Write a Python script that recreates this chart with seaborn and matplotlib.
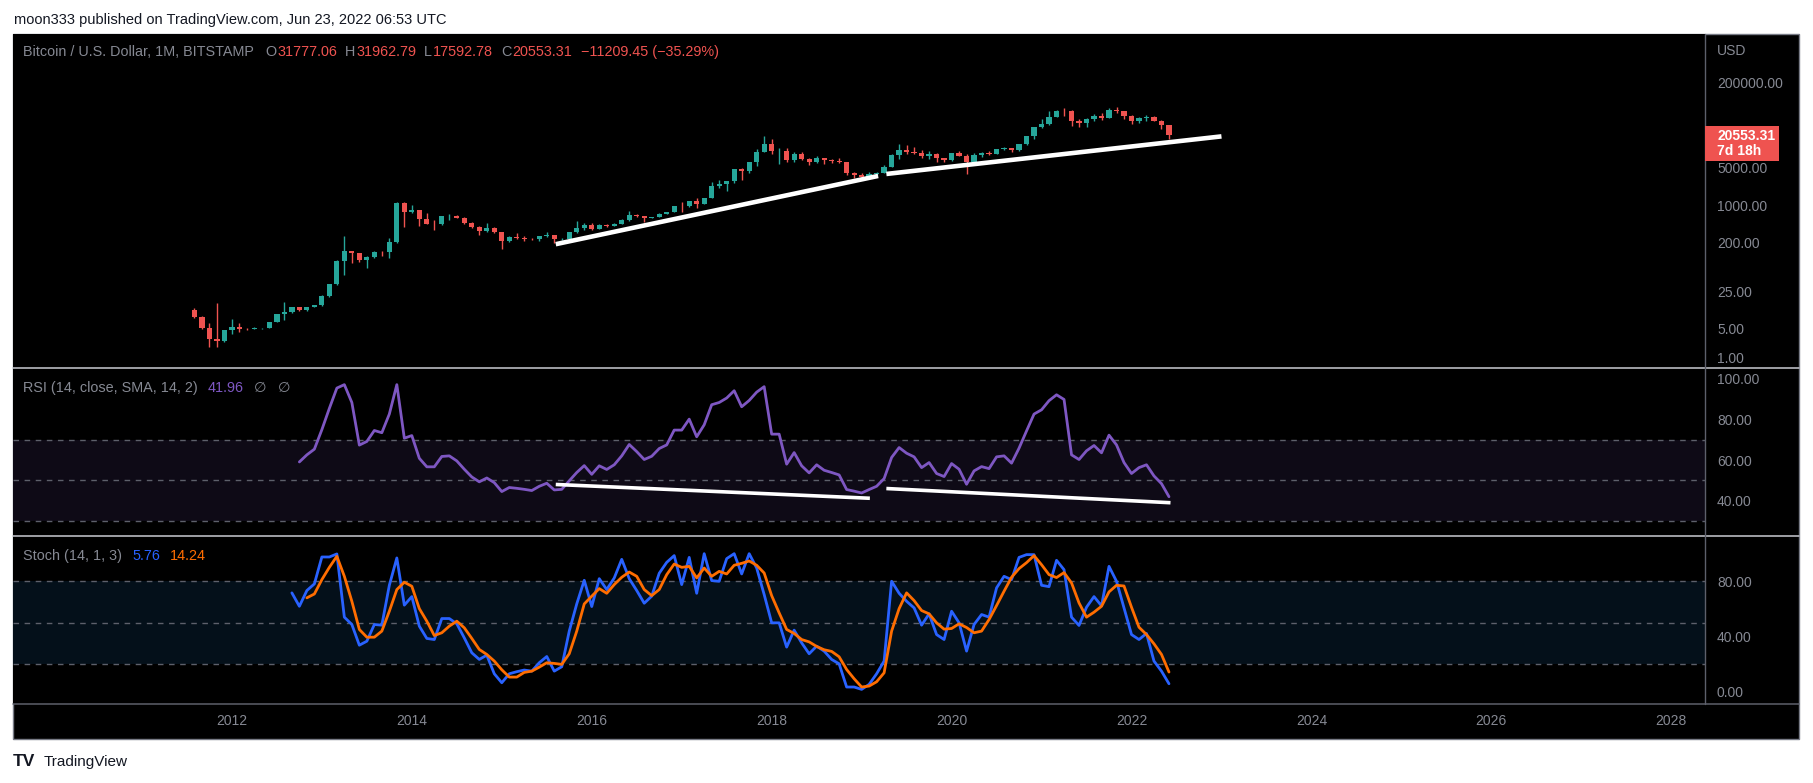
import numpy as np
import pandas as pd
import matplotlib
matplotlib.use('Agg')
import matplotlib.pyplot as plt
from matplotlib.lines import Line2D
from matplotlib.patches import Rectangle
from matplotlib.transforms import IdentityTransform
from matplotlib.ticker import NullLocator
import seaborn as sns

W, H = 1813, 783

# monthly candles BTC/USD (BITSTAMP), Aug 2011 .. Jun 2022
opens = [11.0, 8.1, 5.0, 3.2, 2.97,
         4.7, 5.4, 4.9, 4.8, 5.0, 5.2, 6.6, 9.3, 10.1, 12.4, 11.2, 12.5,
         13.5, 20.4, 33.2, 93, 139, 128, 97, 106, 135, 133, 204, 1130,
         740, 810, 550, 450, 446, 627, 640, 586, 477, 386, 337, 378,
         317, 217, 254, 244, 236, 230, 263, 284, 230, 236, 314, 378,
         430, 368, 437, 416, 448, 531, 670, 624, 573, 609, 700, 742,
         963, 955, 1190, 1080, 1350, 2300, 2480, 2870, 4700, 4340, 6450, 9900,
         13800, 10200, 10300, 6900, 9250, 7500, 6390, 7730, 7010, 6630, 6370, 4040,
         3740, 3460, 3820, 4100, 5320, 8560, 10800, 10080, 9600, 8300, 9150, 7550,
         7180, 9350, 8550, 6420, 8620, 9450, 9140, 11340, 11650, 10780, 13800, 19700,
         29000, 33100, 45200, 58800, 57700, 37300, 35000, 41500, 47100, 43800, 61300, 57000,
         46200, 38500, 43200, 45500, 37700, 31777.06]
highs = [11.9, 8.7, 6.3, 14.8, 4.7,
         7.4, 6.2, 5.1, 5.3, 5.2, 6.7, 9.4, 15.4, 12.5, 12.6, 12.7, 13.8,
         20.7, 33.4, 95, 266, 141, 129, 111, 140, 143, 245, 1163, 1163,
         1010, 830, 710, 540, 630, 680, 650, 600, 490, 415, 460, 390,
         320, 265, 300, 262, 247, 268, 318, 285, 245, 318, 500, 467,
         460, 448, 440, 468, 550, 780, 680, 630, 614, 720, 755, 978,
         1150, 1200, 1350, 1350, 2790, 2980, 2900, 4800, 4980, 6470, 11400, 19666,
         17200, 11790, 11700, 9760, 9990, 7780, 8500, 7770, 7410, 7680, 6570, 4260,
         4110, 4200, 4130, 5650, 9100, 13880, 13200, 12320, 10950, 10540, 9500, 7750,
         9580, 10500, 9190, 9460, 10080, 10380, 11440, 12470, 12070, 14100, 19900, 29300,
         41950, 58300, 61800, 64900, 59500, 41300, 42400, 50500, 52900, 67000, 69000, 59100,
         47900, 45800, 48200, 47400, 40000, 31962.79]
lows = [7.8, 4.8, 2.2, 2.2, 2.8,
        3.9, 4.3, 4.6, 4.8, 4.9, 5.2, 6.6, 7.1, 9.9, 10.6, 10.6, 12.4,
        13.3, 19.1, 33.0, 50, 84, 88, 66, 102, 112, 102, 196, 400,
        720, 410, 440, 340, 430, 540, 570, 440, 375, 275, 320, 305,
        152, 210, 235, 214, 225, 217, 251, 200, 225, 235, 300, 347,
        352, 365, 396, 412, 440, 520, 600, 480, 570, 603, 680, 738,
        752, 915, 890, 1060, 1350, 2070, 1830, 2670, 2970, 4110, 5500, 9900,
        9000, 6000, 6600, 6430, 7050, 5780, 6070, 5880, 6120, 6200, 3650, 3200,
        3350, 3390, 3740, 4080, 5300, 7500, 9080, 9320, 7730, 7300, 6520, 6430,
        6870, 8450, 3850, 6160, 8120, 8930, 8980, 10950, 9870, 10380, 13200, 17600,
        28200, 32400, 45000, 47000, 30000, 28800, 29300, 37300, 39600, 43300, 53300, 42000,
        33000, 34300, 37200, 37600, 26700, 17592.78]
closes = [8.1, 5.0, 3.2, 2.97, 4.7,
          5.4, 4.9, 4.8, 5.0, 5.2, 6.6, 9.3, 10.1, 12.4, 11.2, 12.5, 13.5,
          20.4, 33.2, 93, 139, 128, 97, 106, 135, 133, 204, 1130, 740,
          810, 550, 450, 446, 627, 640, 586, 477, 386, 337, 378, 317,
          217, 254, 244, 236, 230, 263, 284, 230, 236, 314, 378, 430,
          368, 437, 416, 448, 531, 670, 624, 573, 609, 700, 742, 963,
          955, 1190, 1080, 1350, 2300, 2480, 2870, 4700, 4340, 6450, 9900, 13800,
          10200, 10300, 6900, 9250, 7500, 6390, 7730, 7010, 6630, 6370, 4040, 3740,
          3460, 3820, 4100, 5320, 8560, 10800, 10080, 9600, 8300, 9150, 7550, 7180,
          9350, 8550, 6420, 8620, 9450, 9140, 11340, 11650, 10780, 13800, 19700, 29000,
          33100, 45200, 58800, 57700, 37300, 35000, 41500, 47100, 43800, 61300, 57000, 46200,
          38500, 43200, 45500, 37700, 31777.06, 20553.31]

# RSI(14), Oct 2012 .. Jun 2022
rsi = [59.1, 62.6, 65.4,
       75.0, 85.5, 95.5, 97.2, 88.4, 67.4, 69.2, 74.6, 73.5, 82.7, 97.2, 70.8,
       72.1, 60.9, 56.7, 56.7, 61.8, 62.1, 59.6, 55.5, 51.7, 49.3, 51.2, 48.9,
       44.5, 46.5, 46.1, 45.6, 45.0, 47.1, 48.6, 45.3, 45.6, 49.8, 53.9, 57.3,
       53.0, 57.2, 55.4, 57.7, 62.1, 67.7, 64.2, 60.3, 61.9, 65.7, 67.5, 74.8,
       74.8, 80.2, 71.5, 77.4, 87.3, 88.4, 90.6, 94.2, 86.3, 89.4, 93.5, 96.2,
       72.8, 72.8, 58.0, 63.7, 57.2, 53.7, 57.7, 55.0, 53.9, 52.7, 45.5, 44.7,
       43.8, 45.5, 47.1, 50.9, 61.3, 66.2, 63.4, 61.6, 56.3, 58.8, 53.4, 51.9,
       58.3, 55.5, 48.1, 54.7, 56.8, 55.8, 61.6, 62.1, 58.5, 65.9, 74.4, 82.7,
       84.8, 89.3, 92.2, 89.9, 62.6, 60.3, 64.6, 67.2, 63.6, 72.3, 67.5, 58.8,
       53.4, 56.3, 57.7, 52.2, 48.4, 41.96]

# Stoch %K, Sep 2012 .. Jun 2022
stoch_k = [71.6, 61.9, 73.3, 78.1,
           97.6, 97.6, 99.8, 54.0, 48.7, 33.7, 36.6, 48.7, 48.2, 77.1, 96.9, 62.7,
           68.9, 47.5, 38.6, 37.8, 53.0, 53.0, 49.2, 39.0, 28.2, 23.4, 26.5, 13.0,
           6.5, 13.0, 14.5, 15.7, 14.9, 21.0, 25.5, 14.9, 18.1, 43.9, 63.6, 80.7,
           61.7, 81.9, 74.0, 82.4, 95.9, 81.9, 73.3, 64.1, 69.2, 85.8, 93.7, 98.6,
           77.6, 97.3, 71.3, 100.0, 80.5, 80.0, 96.4, 100.0, 85.3, 100.0, 89.6, 70.4,
           49.9, 49.9, 32.3, 44.6, 35.4, 27.5, 33.0, 29.4, 23.4, 20.2, 3.4, 3.4,
           1.7, 5.3, 13.0, 22.2, 80.0, 71.3, 65.5, 60.7, 48.2, 56.4, 41.4, 37.8,
           58.3, 49.9, 29.4, 48.7, 55.9, 54.0, 75.2, 83.6, 81.2, 97.3, 99.3, 99.3,
           77.1, 76.1, 95.2, 88.4, 54.0, 48.0, 61.2, 68.9, 62.2, 90.8, 80.0, 60.7,
           41.4, 37.8, 42.2, 22.2, 14.9, 5.76]

# Stoch %D, Nov 2012 .. Jun 2022
stoch_d = [68.0, 70.8,
           81.2, 90.1, 98.1, 83.6, 65.5, 45.1, 39.5, 39.5, 43.9, 58.3, 74.0, 79.3,
           76.4, 60.2, 51.1, 40.7, 42.7, 47.5, 51.1, 46.3, 38.6, 30.6, 27.0, 22.2,
           15.9, 10.6, 10.6, 14.0, 14.9, 17.8, 21.0, 20.5, 19.8, 27.5, 43.9, 63.6,
           69.2, 74.7, 71.3, 77.6, 82.9, 86.7, 83.6, 74.0, 69.6, 74.0, 84.8, 92.5,
           90.1, 90.8, 82.4, 89.6, 83.6, 87.2, 85.3, 91.6, 93.0, 94.7, 91.6, 86.0,
           69.6, 57.1, 45.1, 42.2, 37.8, 36.1, 32.8, 30.4, 29.2, 25.3, 16.1, 9.4,
           3.4, 4.1, 7.2, 13.7, 43.9, 60.2, 71.6, 66.0, 58.8, 56.4, 49.9, 45.3,
           45.8, 49.2, 46.5, 42.7, 43.9, 52.3, 62.4, 72.8, 82.9, 89.2, 93.5, 98.6,
           92.0, 84.8, 82.7, 86.3, 78.8, 64.3, 54.0, 57.6, 61.9, 72.3, 77.1, 76.6,
           61.2, 46.7, 41.4, 34.7, 27.0, 14.24]

# drawn trend lines (months after Jan 2012, value)
trend_price_x = [[43.2, 86.2], [87.3, 132.0]]
trend_price_y = [[188, 3548], [3866, 19490]]
trend_rsi_x = [[43.2, 85.1], [87.3, 125.2]]
trend_rsi_y = [[48.0, 41.2], [46.0, 39.0]]

price_ticks = [1, 5, 25, 200, 1000, 5000, 200000]
rsi_ticks = [40, 60, 80, 100]
stoch_ticks = [0, 40, 80]
years = [2012, 2014, 2016, 2018, 2020, 2022, 2024, 2026, 2028]

UP, DN = '#26a69a', '#ef5350'
GRAY = '#868993'
PURPLE, BLUE, ORANGE = '#7e57c2', '#2962ff', '#ff6d00'


def month_index(dates):
    return (dates.year - 2012) * 12 + dates.month - 1


candles = pd.DataFrame({'date': pd.date_range('2011-08-01', periods=len(closes), freq='MS'),
                        'open': opens, 'high': highs, 'low': lows, 'close': closes})
candles['m'] = month_index(candles['date'].dt)
rsi_df = pd.DataFrame({'date': pd.date_range('2012-10-01', periods=len(rsi), freq='MS'), 'rsi': rsi})
rsi_df['m'] = month_index(rsi_df['date'].dt)
k_df = pd.DataFrame({'date': pd.date_range('2012-09-01', periods=len(stoch_k), freq='MS'), 'k': stoch_k})
k_df['m'] = month_index(k_df['date'].dt)
d_df = pd.DataFrame({'date': pd.date_range('2012-11-01', periods=len(stoch_d), freq='MS'), 'd': stoch_d})
d_df['m'] = month_index(d_df['date'].dt)

sns.set_theme(style='dark', rc={'axes.facecolor': 'black', 'figure.facecolor': 'white'})
plt.rcParams['font.family'] = ['Liberation Sans', 'DejaVu Sans']


def fx(x):
    return x / W


def fy(y):
    return 1 - y / H


fig = plt.figure(figsize=(W / 100, H / 100), dpi=100)
fig.add_artist(Rectangle((fx(13), fy(739)), fx(1799) - fx(13), fy(34) - fy(739),
                         transform=fig.transFigure, facecolor='black',
                         edgecolor='#787b86', lw=1, zorder=-1))

left, width = fx(13), (1705 - 13) / W
ax_p = fig.add_axes([left, fy(368), width, (368 - 34) / H])
ax_r = fig.add_axes([left, fy(536), width, (536 - 368) / H], sharex=ax_p)
ax_s = fig.add_axes([left, fy(704), width, (704 - 536) / H], sharex=ax_p)
for ax in (ax_p, ax_r, ax_s):
    ax.set_facecolor('black')
    for sp in ax.spines.values():
        sp.set_visible(False)
    ax.grid(False)

# candles
ax_p.set_yscale('log')
col = np.where(candles['close'] >= candles['open'], UP, DN)
ax_p.vlines(candles['m'], candles['low'], candles['high'], colors=col, lw=1)
ax_p.bar(candles['m'], (candles['close'] - candles['open']).abs(),
         bottom=candles[['open', 'close']].min(axis=1), width=0.7, color=col, linewidth=0)
for xs, ys in zip(trend_price_x, trend_price_y):
    ax_p.plot(xs, ys, color='white', lw=3.3, solid_capstyle='butt')
ax_p.set_ylim(0.91, 1.6e6)
ax_p.set_xlim(-29.2, 196.5)

# RSI
ax_r.axhspan(30, 70, color='#0e0a16', lw=0, zorder=0)
for v in (30, 50, 70):
    ax_r.axhline(v, color='#5d606b', lw=1, ls=(0, (4, 4)))
sns.lineplot(data=rsi_df, x='m', y='rsi', ax=ax_r, color=PURPLE, lw=2)
for xs, ys in zip(trend_rsi_x, trend_rsi_y):
    ax_r.plot(xs, ys, color='white', lw=2.6, solid_capstyle='butt')
ax_r.set_ylim(22.6, 105.4)

# Stochastic
ax_s.axhspan(20, 80, color='#04101a', lw=0, zorder=0)
for v in (20, 50, 80):
    ax_s.axhline(v, color='#5d606b', lw=1, ls=(0, (4, 4)))
sns.lineplot(data=k_df, x='m', y='k', ax=ax_s, color=BLUE, lw=2)
sns.lineplot(data=d_df, x='m', y='d', ax=ax_s, color=ORANGE, lw=2)
ax_s.set_ylim(-8.9, 112.8)

for ax, ticks in ((ax_p, price_ticks), (ax_r, rsi_ticks), (ax_s, stoch_ticks)):
    ax.set_xlabel('')
    ax.set_ylabel('')
    ax.yaxis.tick_right()
    ax.set_yticks(ticks)
    ax.set_yticklabels([f'{t:.2f}' for t in ticks])
    ax.yaxis.set_minor_locator(NullLocator())
    ax.tick_params(axis='y', length=0, pad=8.6, labelsize=10, labelcolor=GRAY)
    ax.tick_params(axis='x', length=0, labelbottom=False)
# lowest price label sits just inside its pane
ax_p.get_yticklabels()[0].set_va('bottom')

ax_s.set_xticks([(y - 2012) * 12 for y in years])
ax_s.set_xticklabels([str(y) for y in years])
ax_s.tick_params(axis='x', length=0, pad=7.5, labelbottom=True, labelsize=10, labelcolor=GRAY)

# panel borders
for y, c in ((368, '#c9cbd2'), (536, '#c9cbd2'), (704, '#5d606b')):
    fig.add_artist(Line2D([fx(13), fx(1799)], [fy(y), fy(y)], color=c, lw=1.1, transform=fig.transFigure))
fig.add_artist(Line2D([fx(1705), fx(1705)], [fy(34), fy(704)], color='#5d606b', lw=1, transform=fig.transFigure))

fig.text(fx(1717), fy(51), 'USD', color=GRAY, fontsize=10, va='center')

# last price tag
ytag = H - ax_p.transData.transform((0, closes[-1]))[1]
fig.add_artist(Rectangle((1705, H - (ytag + 26)), 74, 35, transform=IdentityTransform(),
                         facecolor=DN, edgecolor='none', zorder=5))
fig.text(fx(1717), fy(ytag + 1), f'{closes[-1]:.2f}', color='white', fontsize=10,
         weight='bold', va='center', zorder=6)
fig.text(fx(1717), fy(ytag + 16), '7d 18h', color='white', fontsize=10,
         weight='bold', va='center', zorder=6)

renderer = fig.canvas.get_renderer()


def text_row(x0, y0, parts, size=10.4):
    x = x0
    for s, c, gap in parts:
        t = fig.text(fx(x), fy(y0), s, color=c, fontsize=size, va='center', ha='left')
        x += t.get_window_extent(renderer=renderer).width + gap


text_row(23, 52, [('Bitcoin / U.S. Dollar, 1M, BITSTAMP', GRAY, 11), ('O', GRAY, 1),
                  ('31777.06', DN, 8), ('H', GRAY, 1), ('31962.79', DN, 8), ('L', GRAY, 1),
                  ('17592.78', DN, 8), ('C', GRAY, 1), ('20553.31', DN, 9),
                  ('\u221211209.45 (\u221235.29%)', DN, 0)])
text_row(23, 388, [('RSI (14, close, SMA, 14, 2)', GRAY, 10), ('41.96', PURPLE, 10),
                   ('\u2205', GRAY, 12), ('\u2205', GRAY, 0)])
text_row(23, 556, [('Stoch (14, 1, 3)', GRAY, 10), ('5.76', BLUE, 10), ('14.24', ORANGE, 0)])

fig.text(fx(14), fy(20), 'moon333 published on TradingView.com, Jun 23, 2022 06:53 UTC',
         color='#131722', fontsize=10.5, va='center')
fig.text(fx(13), fy(762), 'TV', color='#131722', fontsize=12.5, weight='bold', va='center')
fig.text(fx(44), fy(762), 'TradingView', color='#131722', fontsize=11, va='center')

fig.savefig('out.png', dpi=100)
